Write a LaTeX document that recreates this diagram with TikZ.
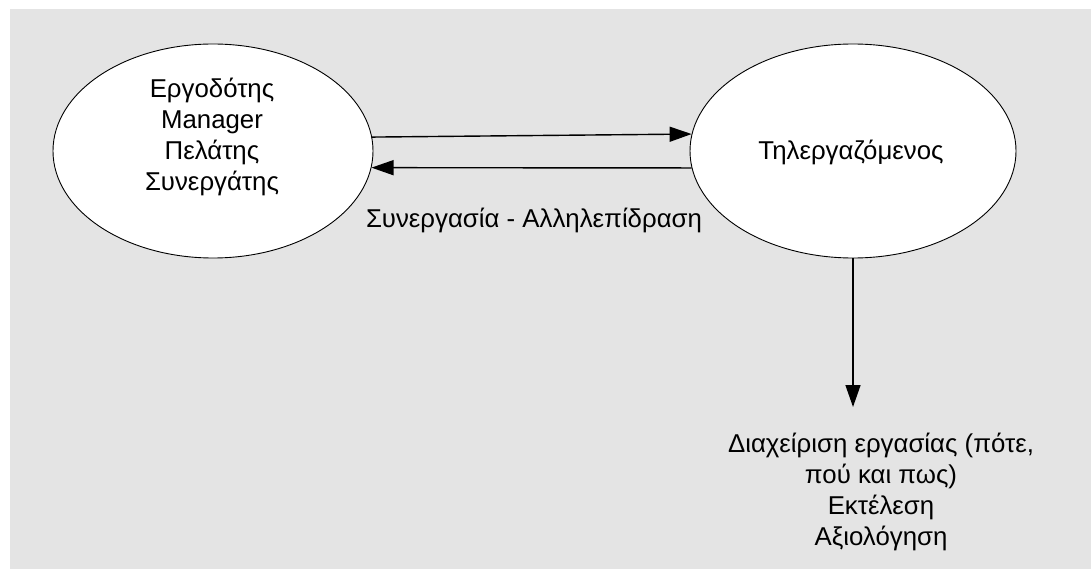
\documentclass[tikz,border=0pt]{standalone}
\usepackage{fontspec}
\setmainfont{Liberation Sans}
\usetikzlibrary{arrows.meta, shapes.geometric}
\definecolor{bggray}{HTML}{E4E4E4}

\begin{document}
\begin{tikzpicture}[x=1pt, y=-1pt,
  oval/.style={draw, ellipse, fill=white, line width=0.9pt, minimum height=214pt, inner sep=0pt},
  txt/.style={align=center, font=\fontsize{25.8}{30.8}\selectfont, inner sep=0pt},
  arr/.style={line width=1.4pt, -{Triangle[length=22pt, width=15pt]}}]
  \useasboundingbox (0, 0) rectangle (1091, 569);
  \fill [bggray] (10, 9) rectangle (1091, 569);

  \node [oval, minimum width=320pt] (0) at (213, 151) {};
  \node [txt] (a) at (212, 137) {Εργοδότης\\Manager\\Πελάτης\\Συνεργάτης};

  \node [oval, minimum width=326pt] (1) at (853, 151) {};
  \node [txt, anchor=base] (b) at (851, 160) {Τηλεργαζόμενος};

  \draw [arr] (0.5.8) to (1.174.3);
  \draw [arr] (1.186) to (0.-6.1);
  \node [txt, anchor=base] (2) at (534, 228) {Συνεργασία - Αλληλεπίδραση};

  \node [txt, anchor=north] (3) at (881, 433) {Διαχείριση εργασίας (πότε,\\πού και πως)\\Εκτέλεση\\Αξιολόγηση};
  \draw [arr] (1) to ([yshift=26pt] 1.south |- 3.north);
\end{tikzpicture}
\end{document}
